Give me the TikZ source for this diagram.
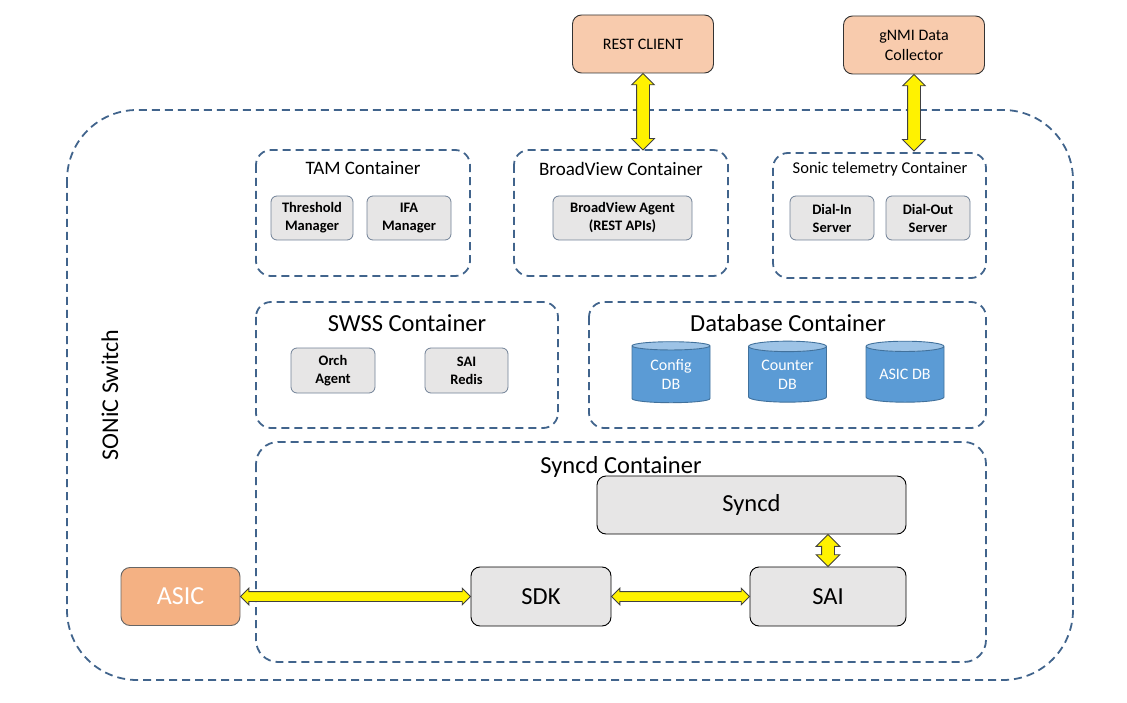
\documentclass[tikz,border=0pt]{standalone}
\usepackage{fontspec}
\setmainfont{Carlito}
\usetikzlibrary{calc,shapes.arrows,shapes.geometric}

\definecolor{dashblue}{RGB}{65,100,140}
\definecolor{boxgray}{RGB}{231,230,230}
\definecolor{boxedge}{RGB}{112,128,150}
\definecolor{peach}{RGB}{248,203,173}
\definecolor{asicorange}{RGB}{244,177,131}
\definecolor{dbblue}{RGB}{91,155,213}
\definecolor{dbtop}{RGB}{157,195,230}
\definecolor{dbedge}{RGB}{65,113,156}

\tikzset{
  container/.style={draw=dashblue,line width=1.8pt,dash pattern=on 8pt off 5pt,rounded corners=15pt},
  title/.style={font=\fontsize{#1}{#1}\selectfont},
  smallbox/.style={draw=boxedge,fill=boxgray,rounded corners=6pt,line width=0.8pt,align=center,
    font=\fontsize{14.5}{18}\selectfont\bfseries,inner sep=0pt},
  bigbox/.style={draw=black,fill=boxgray,rounded corners=9pt,line width=0.9pt,
    font=\fontsize{24.5}{28}\selectfont,inner sep=0pt},
  clientbox/.style={draw=black!80,fill=peach,rounded corners=9pt,line width=0.9pt,align=center,
    font=\fontsize{16}{20}\selectfont,inner sep=0pt,minimum width=141pt,minimum height=58pt},
  dbcyl/.style={cylinder,shape border rotate=90,aspect=0.2,draw=dbedge,line width=0.9pt,
    cylinder uses custom fill,cylinder body fill=dbblue,cylinder end fill=dbtop,
    minimum width=78pt,minimum height=61pt,inner sep=0pt,text=white,align=center,
    font=\fontsize{16}{19}\selectfont},
  yarrow/.style={double arrow,draw=black!75,fill=yellow,line width=0.8pt,inner xsep=0pt,
    double arrow tip angle=90}
}

\begin{document}
\begin{tikzpicture}[x=1pt,y=-1pt]
    \useasboundingbox (0,0) rectangle (1127,703);

    % SONiC switch
    \draw[container,rounded corners=70pt] (67,110) rectangle (1073,680);
    \node[title=24,rotate=90] (switch) at (110,395) {SONiC Switch};

    % clients
    \node[clientbox] (rest) at (643,44) {REST CLIENT};
    \node[clientbox] (gnmi) at (914,45) {gNMI Data\\Collector};

    % TAM
    \draw[container] (256,150) rectangle (470,276);
    \node[title=19] (tamt) at (363,168) {TAM Container};
    \node[smallbox,minimum width=82pt,minimum height=44pt] (thr) at (312,218) {Threshold\\Manager};
    \node[smallbox,minimum width=84pt,minimum height=44pt] (ifa) at (409,218) {IFA\\Manager};

    % BroadView
    \draw[container] (514,150) rectangle (728,276);
    \node[title=19] (bvt) at (621,169) {BroadView Container};
    \node[smallbox,minimum width=139pt,minimum height=44pt] (bva) at (622.5,218) {BroadView Agent\\(REST APIs)};
    \coordinate (bvtop) at (643,150);

    % telemetry
    \draw[container] (773,153) rectangle (986,278);
    \node[title=16.5] (telt) at (880,169) {Sonic telemetry Container};
    \node[smallbox,minimum width=84pt,minimum height=44pt] (dialin) at (832,218) {Dial-In\\Server};
    \node[smallbox,minimum width=84pt,minimum height=44pt] (dialout) at (928,218) {Dial-Out\\Server};
    \coordinate (teltop) at (914,151);

    % SWSS
    \draw[container] (256,302) rectangle (558,428);
    \node[title=24.5] (swsst) at (407,323) {SWSS Container};
    \node[smallbox,minimum width=84pt,minimum height=45pt] (orch) at (333,370.5) {Orch\\Agent};
    \node[smallbox,minimum width=83pt,minimum height=45pt] (redis) at (466.5,370.5) {SAI\\Redis};

    % database
    \draw[container] (589,302) rectangle (986,428);
    \node[title=24.5] (dbt) at (788,323) {Database Container};
    \node[dbcyl] (cfgdb) at (671,374.5) {Config\\DB};
    \node[dbcyl] (cntdb) at (787.5,374.5) {Counter\\DB};
    \node[dbcyl] (asicdb) at (905,374.5) {ASIC DB};

    % syncd
    \draw[container,rounded corners=22pt] (256,442) rectangle (986,662);
    \node[title=24.5] (syncdt) at (621,467) {Syncd Container};
    \node[bigbox,minimum width=309pt,minimum height=58pt] (syncd) at (751.5,505) {Syncd};
    \node[bigbox,minimum width=140pt,minimum height=59pt] (sdk) at (541,596.5) {SDK};
    \node[bigbox,minimum width=156pt,minimum height=59pt] (sai) at (828,596.5) {SAI};
    \node[bigbox,draw=black!60,fill=asicorange,text=white,font=\fontsize{26}{28}\selectfont,
          minimum width=119pt,minimum height=58pt] (asic) at (180.5,596.5) {ASIC};
    \coordinate (syncdbot) at (sai.north |- syncd.south);

    \foreach \a/\b/\w/\e in {rest.south/bvtop/6pt/5pt,gnmi.south/teltop/6pt/5pt,syncdbot/sai.north/6pt/5.5pt,
                             asic.east/sdk.west/4.5pt/3.5pt,sdk.east/sai.west/4.5pt/3.5pt}
    \path let \p1=(\a),\p2=(\b),\n1={veclen(\x2-\x1,\y2-\y1)},\n2={atan2(\y2-\y1,\x2-\x1)} in
        node[yarrow,inner ysep=\w,double arrow head extend=\e,minimum height=\n1,rotate=\n2] at ($(\p1)!0.5!(\p2)$) {};

\end{tikzpicture}
\end{document}
